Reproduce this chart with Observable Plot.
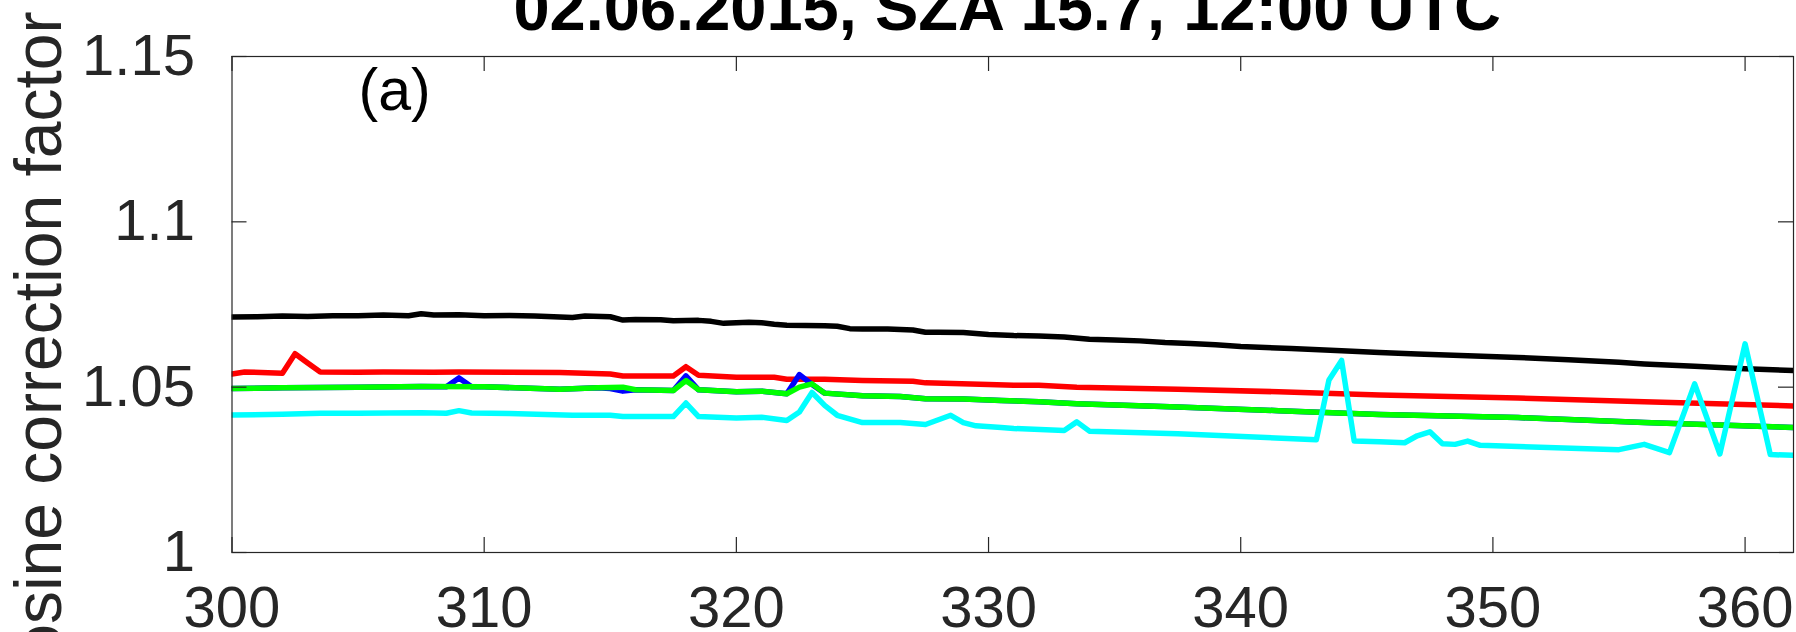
<!DOCTYPE html>
<html><head><meta charset="utf-8">
<script src="https://cdn.jsdelivr.net/npm/d3@7"></script>
<script src="https://cdn.jsdelivr.net/npm/@observablehq/plot@0.6"></script>
<style>html,body{margin:0;padding:0;background:#fff;overflow:hidden}</style>
</head><body><div id="chart"></div>
<script>
const titleText = "02.06.2015, SZA 15.7, 12:00 UTC";
const yLabelText = "Cosine correction factor";
const panelLabel = "(a)";
const panelLabelPos = [306.45, 1.1337];
const xTicks = [300, 310, 320, 330, 340, 350, 360];
const yTicks = [1, 1.05, 1.1, 1.15];
const xDomain = [300, 361.92];
const yDomain = [1, 1.15];
const seriesColors = {black: "#000000", red: "#ff0000", blue: "#0000ff", green: "#00ff00", cyan: "#00ffff"};

const blackSeries = [[300,1.0712],[301,1.0713],[302,1.0715],[303,1.0714],[304,1.0716],[305,1.0716],[306,1.0718],[307,1.0716],[307.5,1.0722],[308,1.0718],[309,1.0719],[310,1.0716],[311,1.0717],[312,1.0715],[313,1.0712],[313.5,1.0711],[314,1.0715],[315,1.0713],[315.5,1.0703],[316,1.0705],[317,1.0704],[317.5,1.0701],[318.5,1.0702],[319,1.0699],[319.5,1.0693],[320.5,1.0696],[321,1.0695],[321.5,1.0690],[322,1.0687],[323.5,1.0686],[324,1.0684],[324.5,1.0677],[325,1.0676],[326,1.0676],[327,1.0673],[327.5,1.0666],[328,1.0666],[329,1.0665],[329.5,1.0662],[330,1.0659],[331,1.0656],[332,1.0655],[333,1.0652],[334,1.0645],[335,1.0643],[336,1.0640],[337,1.0635],[338,1.0632],[339,1.0628],[340,1.0623],[342,1.0617],[344,1.0610],[345.5,1.0605],[347,1.0600],[349,1.0595],[351,1.0590],[353,1.0583],[355,1.0575],[356,1.0570],[358,1.0563],[360,1.0556],[362,1.0550]];

const redSeries = [[300,1.0540],[300.5,1.0546],[302,1.0542],[302.5,1.0601],[303,1.0573],[303.5,1.0546],[305,1.0545],[306,1.0546],[308,1.0545],[309,1.0546],[311,1.0545],[313,1.0544],[314,1.0542],[315,1.0540],[315.5,1.0534],[317.5,1.0534],[318,1.0562],[318.5,1.0536],[320,1.0530],[321.5,1.0530],[322,1.0524],[323.5,1.0524],[325,1.0520],[327,1.0518],[327.5,1.0513],[330,1.0508],[331,1.0506],[332,1.0506],[333.5,1.0500],[337.5,1.0494],[341.5,1.0486],[345.5,1.0476],[351,1.0467],[356,1.0456],[362,1.0443]];

const blueSeries = [[300,1.0496],[302,1.0498],[305,1.0500],[307.5,1.0502],[308.5,1.0501],[309,1.0528],[309.5,1.0501],[310,1.0501],[313,1.0494],[314.5,1.0498],[315,1.0496],[315.5,1.0488],[316,1.0492],[317.5,1.0490],[318,1.0534],[318.5,1.0492],[320,1.0486],[321,1.0488],[322,1.0480],[322.5,1.0538],[323,1.0508],[323.5,1.0482],[325,1.0474],[326.5,1.0472],[327.5,1.0465],[329,1.0464],[330.5,1.0460],[332,1.0456],[333.5,1.0450],[337.5,1.0440],[341.5,1.0429],[345.5,1.0417],[351,1.0408],[356,1.0393],[362,1.0378]];

const greenSeries = [[300,1.0496],[302,1.0498],[305,1.0500],[307.5,1.0502],[310,1.0501],[313,1.0494],[314.5,1.0498],[315.5,1.0500],[316,1.0492],[317.5,1.0490],[318,1.0520],[318.5,1.0492],[320,1.0486],[321,1.0488],[322,1.0480],[322.5,1.0500],[323,1.0510],[323.5,1.0482],[325,1.0474],[326.5,1.0472],[327.5,1.0465],[329,1.0464],[330.5,1.0460],[332,1.0456],[333.5,1.0450],[337.5,1.0440],[341.5,1.0429],[345.5,1.0417],[351,1.0408],[356,1.0393],[362,1.0378]];

const cyanSeries = [[300,1.0416],[302,1.0418],[303.5,1.0421],[305,1.0421],[307.5,1.0423],[308.5,1.0421],[309,1.0429],[309.5,1.0422],[311,1.0420],[313.5,1.0415],[315,1.0415],[315.5,1.0411],[317.5,1.0411],[318,1.0452],[318.5,1.0411],[320,1.0407],[321,1.0409],[322,1.0399],[322.5,1.0425],[323,1.0484],[323.5,1.0445],[324,1.0415],[325,1.0393],[326.5,1.0393],[327.5,1.0387],[328.5,1.0415],[329,1.0393],[329.5,1.0383],[330.5,1.0378],[331,1.0375],[333,1.0369],[333.5,1.0395],[334,1.0367],[337.5,1.0359],[343,1.0341],[343.5,1.0522],[344,1.0581],[344.5,1.0337],[345.5,1.0335],[346.5,1.0332],[347,1.0353],[347.5,1.0365],[348,1.0329],[348.5,1.0327],[349,1.0337],[349.5,1.0324],[355,1.0311],[356,1.0327],[357,1.0302],[358,1.0510],[359,1.0298],[360,1.0631],[361,1.0296],[362,1.0294]];

const W = 1796, H = 632;
const mL = 231.5, mR = 3, mT = 56, mB = 80;
const plotW = W - mL - mR, plotH = H - mT - mB;
const tickLen = 15;
const axisColor = "#262626";
const fmt = d => String(d);

const toRows = (arr) => arr.map(([wl, v]) => ({wl, v}));
const lineOf = (arr, color) => Plot.line(toRows(arr), {x: "wl", y: "v", stroke: color, strokeWidth: 5.5, clip: true});

const chart = Plot.plot({
  width: W, height: H,
  marginLeft: mL, marginRight: mR, marginTop: mT, marginBottom: mB,
  style: {fontFamily: "'Liberation Sans', Arial, Helvetica, sans-serif", fontSize: "58px", color: axisColor, background: "#fff", overflow: "visible"},
  x: {domain: xDomain},
  y: {domain: yDomain},
  marks: [
    lineOf(blackSeries, seriesColors.black),
    lineOf(redSeries, seriesColors.red),
    lineOf(blueSeries, seriesColors.blue),
    lineOf(greenSeries, seriesColors.green),
    lineOf(cyanSeries, seriesColors.cyan),
    Plot.frame({stroke: axisColor, strokeWidth: 1.2}),
    Plot.tickX(xTicks, {x: d => d, insetTop: plotH - tickLen, stroke: axisColor, strokeWidth: 1.2}),
    Plot.tickX(xTicks, {x: d => d, insetBottom: plotH - tickLen, stroke: axisColor, strokeWidth: 1.2}),
    Plot.tickY(yTicks, {y: d => d, insetRight: plotW - tickLen, stroke: axisColor, strokeWidth: 1.2}),
    Plot.tickY(yTicks, {y: d => d, insetLeft: plotW - tickLen, stroke: axisColor, strokeWidth: 1.2}),
    Plot.axisX({ticks: xTicks, tickFormat: fmt, anchor: "bottom", tickSize: 0, tickPadding: 33, fontSize: 58, label: null}),
    Plot.axisY({ticks: yTicks, tickFormat: fmt, anchor: "left", tickSize: 0, tickPadding: 37, fontSize: 58, label: null}),
    Plot.text([panelLabel], {x: () => panelLabelPos[0], y: () => panelLabelPos[1], text: d => d, fontSize: 59, lineAnchor: "bottom", textAnchor: "middle", fill: "#000"}),
    Plot.text([titleText], {frameAnchor: "top", text: d => d, dx: -5.5, dy: -26.5, lineAnchor: "bottom", fontSize: 65, fontWeight: "bold", fill: "#000"}),
    Plot.text([yLabelText], {frameAnchor: "left", text: d => d, rotate: -90, textAnchor: "end", lineAnchor: "bottom", dx: 60 - mL, dy: 11 - (mT + plotH / 2), fontSize: 66, fill: axisColor})
  ]
});
document.getElementById("chart").appendChild(chart);
</script>
</body></html>
